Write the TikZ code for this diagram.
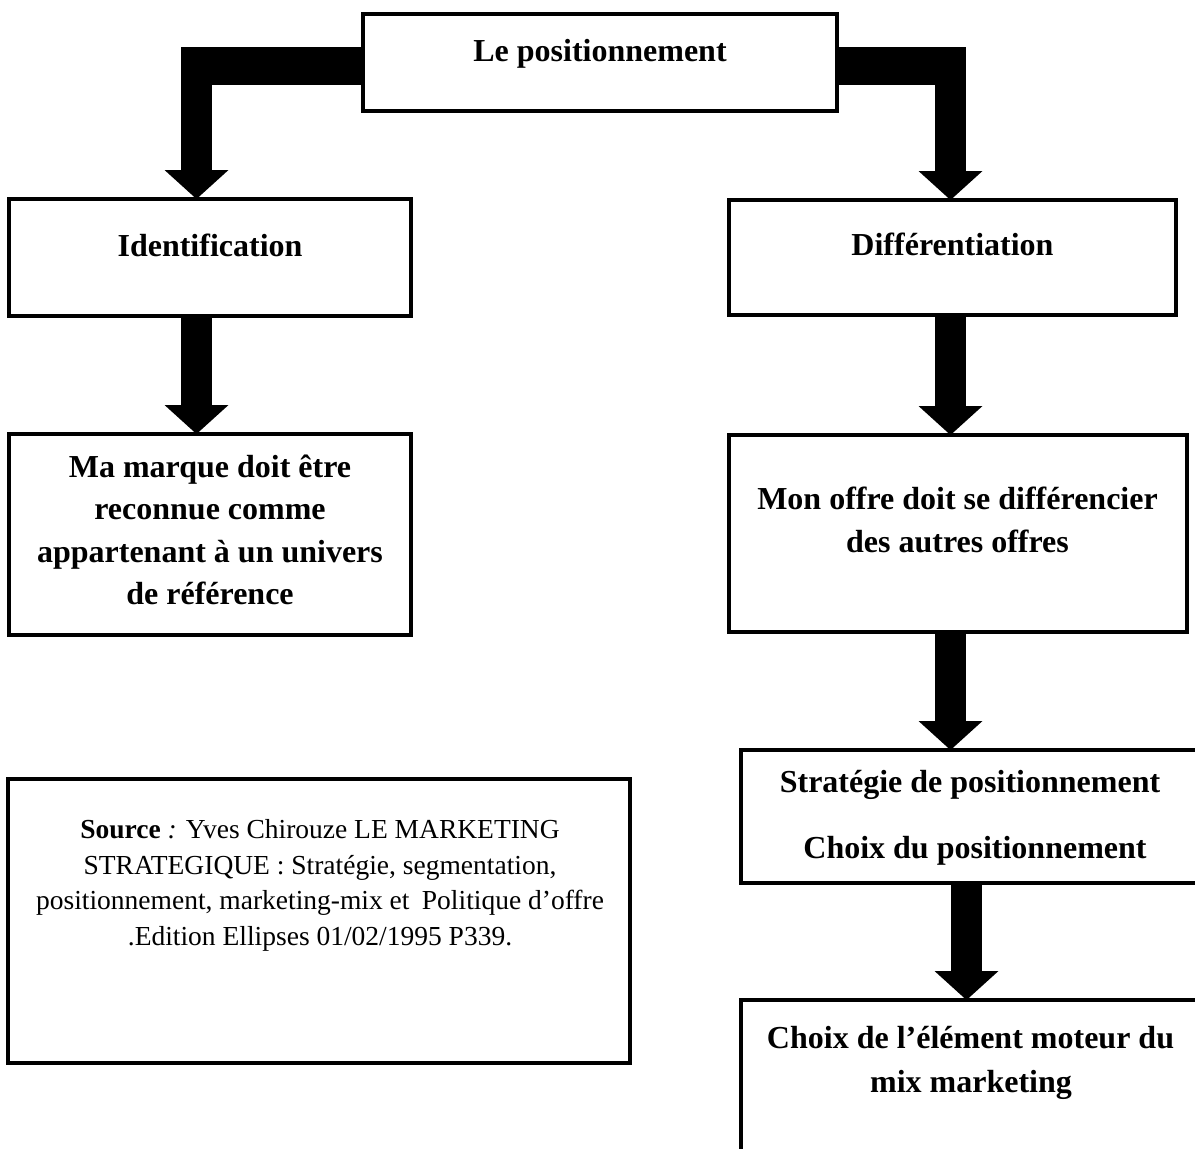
\documentclass[tikz,border=0pt]{standalone}
\usepackage{fontspec}
\setmainfont{Liberation Serif}
\usetikzlibrary{arrows.meta}
\begin{document}
\begin{tikzpicture}[x=1pt,y=-1pt,
  box/.style={draw=black, line width=4.5pt, fill=white, rectangle, inner sep=0pt, outer sep=0pt},
  hd/.style={font=\bfseries\fontsize{32}{40}\selectfont, anchor=base, inner sep=0pt},
  src/.style={font=\fontsize{27.5}{34}\selectfont, anchor=base, inner sep=0pt},
  fat/.style={line width=31pt, -{Triangle[width=64pt,length=29pt,line width=0pt]}},
]
\useasboundingbox (0,0) rectangle (1195,1149);
\clip (0,0) rectangle (1195,1149);

% boxes
\node[box, minimum width=474pt, minimum height=97pt]  (top)    at (600,62.5)   {};
\node[box, minimum width=402pt, minimum height=117pt] (ident)  at (210,257.5)  {};
\node[box, minimum width=447pt, minimum height=115pt] (diff)   at (952.5,257.5) {};
\node[box, minimum width=402pt, minimum height=201pt] (marque) at (210,534.5)  {};
\node[box, minimum width=458pt, minimum height=197pt] (offre)  at (958,533.5)  {};
\node[box, minimum width=459pt, minimum height=133pt] (strat)  at (970.5,816.5) {};
\node[box, minimum width=459pt, minimum height=250pt] (choix)  at (970.5,1125) {};
\node[box, minimum width=622pt, minimum height=284pt] (source) at (319,921)    {};

% bent arrows from the top box
\coordinate (lbar)   at (196.5,66);
\coordinate (lbarTL) at (181,47);
\coordinate (lbarB)  at (0,85);
\coordinate (rbar)   at (950.5,66);
\coordinate (rbarBR) at (966,85);
\fill (lbarTL) rectangle (top.west |- lbarB);
\fill (top.east |- lbarTL) rectangle (rbarBR);
\draw[fat] (top.west |- lbar) -| ([xshift=-13.5pt]ident.north);
\draw[fat] (top.east |- rbar) -| ([xshift=-2pt]diff.north);

% straight arrows
\draw[fat] ([xshift=-13.5pt]ident.south) -- ([xshift=-13.5pt]marque.north);
\draw[fat] ([xshift=-2pt]diff.south) -- ([xshift=-7.5pt]offre.north);
\draw[fat] ([xshift=-7.5pt]offre.south) -- ([xshift=-20pt]strat.north);
\draw[fat] ([xshift=-4pt]strat.south) -- ([xshift=-4pt]choix.north);

% texts
\node[hd] (t-top)   at (600,61)    {Le positionnement};
\node[hd] (t-ident) at (210,256)   {Identification};
\node[hd] (t-diff)  at (952.5,255) {Différentiation};

\node[hd] (t-marque1) at (210,477)   {Ma marque doit être};
\node[hd] (t-marque2) at (210,519.5) {reconnue comme};
\node[hd] (t-marque3) at (210,562)   {appartenant à un univers};
\node[hd] (t-marque4) at (210,604.5) {de référence};

\node[hd] (t-offre1) at (957.5,509) {Mon offre doit se différencier};
\node[hd] (t-offre2) at (957.5,552) {des autres offres};

\node[hd] (t-strat1) at (970,792) {Stratégie de positionnement};
\node[hd] (t-strat2) at (975,858) {Choix du positionnement};

\node[hd] (t-choix1) at (970.5,1048) {Choix de l’élément moteur du};
\node[hd] (t-choix2) at (971,1092)   {mix marketing};

\node[src] (t-src1) at (320,838) {{\bfseries Source} \textit{:} Yves Chirouze LE MARKETING};
\node[src] (t-src2) at (320,874) {STRATEGIQUE : Stratégie, segmentation,};
\node[src] (t-src3) at (320,909.5) {positionnement, marketing-mix et\hspace{0.45em}Politique d{\char"27}offre};
\node[src] (t-src4) at (320,945) {.Edition Ellipses 01/02/1995 P339.};
\end{tikzpicture}
\end{document}
